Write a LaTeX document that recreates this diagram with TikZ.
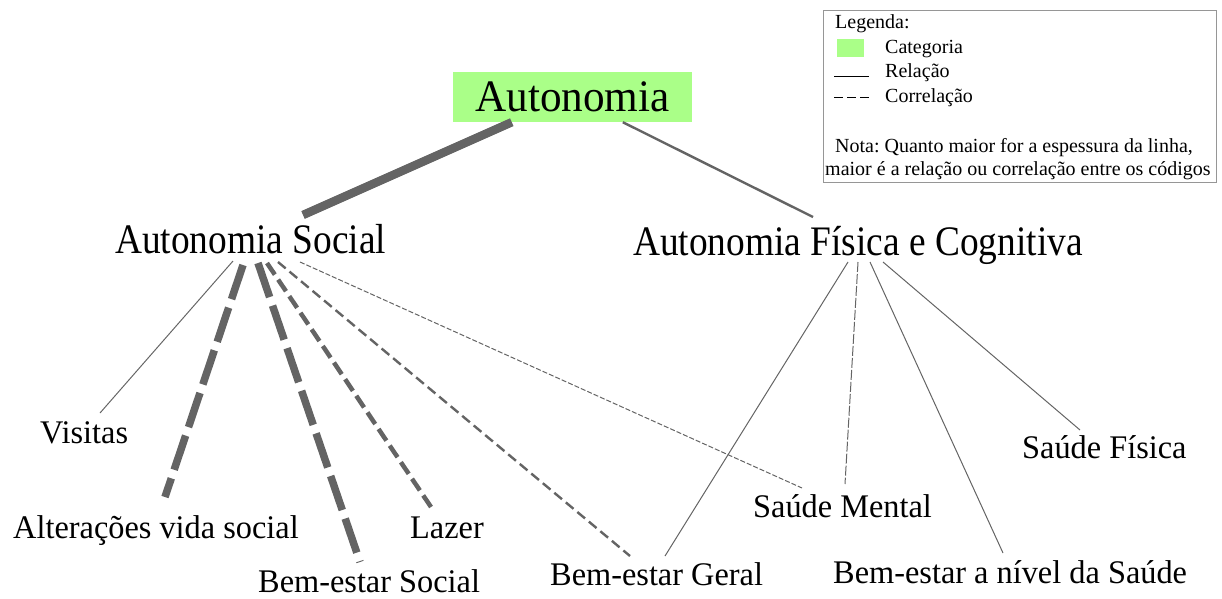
\documentclass[tikz,border=0pt]{standalone}
\usepackage{fontspec}
\setmainfont{Liberation Serif}
\newfontfamily\leaffont{Liberation Serif}[FakeStretch=0.98]
\newfontfamily\rootfont{Liberation Serif}[FakeStretch=0.96]
\newfontfamily\midfont{Liberation Serif}[FakeStretch=0.89]
\frenchspacing
\definecolor{catgreen}{RGB}{170,255,136}
\definecolor{linkgray}{RGB}{100,100,100}
\definecolor{framegray}{RGB}{150,150,150}
\tikzset{
  lbl/.style={inner sep=0pt, anchor=base west},
  leaf/.style={lbl, font=\leaffont\fontsize{33}{36}\selectfont},
  mid/.style={lbl, font=\midfont\fontsize{42}{46}\selectfont},
  legtext/.style={lbl, font=\fontsize{20}{23}\selectfont},
  link/.style={draw=linkgray, line cap=butt},
  hugelink/.style={link, line width=8.5pt},
  boldlink/.style={link, line width=7.5pt},
  medlink/.style={link, line width=4.5pt},
  midlink/.style={link, line width=2.4pt},
  thinlink/.style={link, line width=1pt},
}
\begin{document}
\begin{tikzpicture}[x=1pt,y=-1pt]
\useasboundingbox (0,0) rectangle (1222,598);

% categories and codes
\node[fill=catgreen, inner sep=0pt, minimum width=239pt, minimum height=50pt,
      font=\rootfont\fontsize{45}{48}\selectfont] (root) at (572.5,97) {Autonomia};
\node[mid] (as)  at (115,253) {Autonomia Social};
\node[mid] (afc) at (633,255) {Autonomia Física e Cognitiva};

\node[leaf] (vis) at (40,443)  {Visitas};
\node[leaf] (alt) at (13,538)  {Alterações vida social};
\node[leaf] (bes) at (258,592) {Bem-estar Social};
\node[leaf] (laz) at (410,538) {Lazer};
\node[leaf] (beg) at (550,585) {Bem-estar Geral};
\node[leaf] (sm)  at (753,517) {Saúde Mental};
\node[leaf] (ben) at (833,583) {Bem-estar a nível da Saúde};
\node[leaf] (sf)  at (1022,458){Saúde Física};

% links from the root category
\draw[hugelink] ([shift={(59,0)}]root.south west) -- ([shift={(188,-38)}]as.base west);
\draw[midlink]  ([shift={(170,0)}]root.south west) -- ([shift={(180,-38)}]afc.base west);

% links of Autonomia Social
\draw[thinlink] ([shift={(118,8)}]as.base west) -- ([shift={(60,-30)}]vis.base west);
\draw[boldlink, dash pattern=on 36pt off 9pt] ([shift={(128,12)}]as.base west) -- ([shift={(152,-41)}]alt.base west);
\draw[boldlink, dash pattern=on 36pt off 9pt] ([shift={(143,10)}]as.base west) -- ([shift={(102,-30)}]bes.base west);
\draw[medlink, dash pattern=on 14pt off 6pt] ([shift={(152,10)}]as.base west) -- ([shift={(21,-31)}]laz.base west);
\draw[midlink, dash pattern=on 10pt off 5pt] ([shift={(163,9)}]as.base west) -- ([shift={(80,-29)}]beg.base west);
\draw[thinlink, dash pattern=on 5pt off 2pt] ([shift={(185,9)}]as.base west) -- ([shift={(49,-29)}]sm.base west);

% links of Autonomia Física e Cognitiva
\draw[thinlink] ([shift={(215,7)}]afc.base west) -- ([shift={(115,-29)}]beg.base west);
\draw[thinlink, dash pattern=on 10pt off 2pt] ([shift={(225,7)}]afc.base west) -- ([shift={(92,-33)}]sm.base west);
\draw[thinlink] ([shift={(237,7)}]afc.base west) -- ([shift={(170,-30)}]ben.base west);
\draw[thinlink] ([shift={(250,7)}]afc.base west) -- ([shift={(58,-28)}]sf.base west);

% legend
\node[draw=framegray, line width=1pt, inner sep=0pt, minimum width=393pt, minimum height=172pt,
      anchor=north west] (leg) at (823,10) {};
\node[legtext] (legtitle) at (835,28) {Legenda:};
\node[fill=catgreen, inner sep=0pt, minimum width=27pt, minimum height=18pt, anchor=north west]
      (swatch) at (837,39) {};
\node[legtext] (legcat) at (885,53) {Categoria};
\node[legtext] (legrel) at (885,77) {Relação};
\node[legtext] (legcor) at (885,102) {Correlação};
\coordinate (relA) at (834,76);  \coordinate (relB) at (869,76);
\coordinate (corA) at (834,97);  \coordinate (corB) at (869,97);
\draw[line width=1pt] (relA) -- (relB);
\draw[line width=1pt, dash pattern=on 9pt off 4pt] (corA) -- (corB);
\node[legtext] (nota1) at (835,152) {Nota: Quanto maior for a espessura da linha,};
\node[legtext] (nota2) at (825,175) {maior é a relação ou correlação entre os códigos};
\end{tikzpicture}
\end{document}
